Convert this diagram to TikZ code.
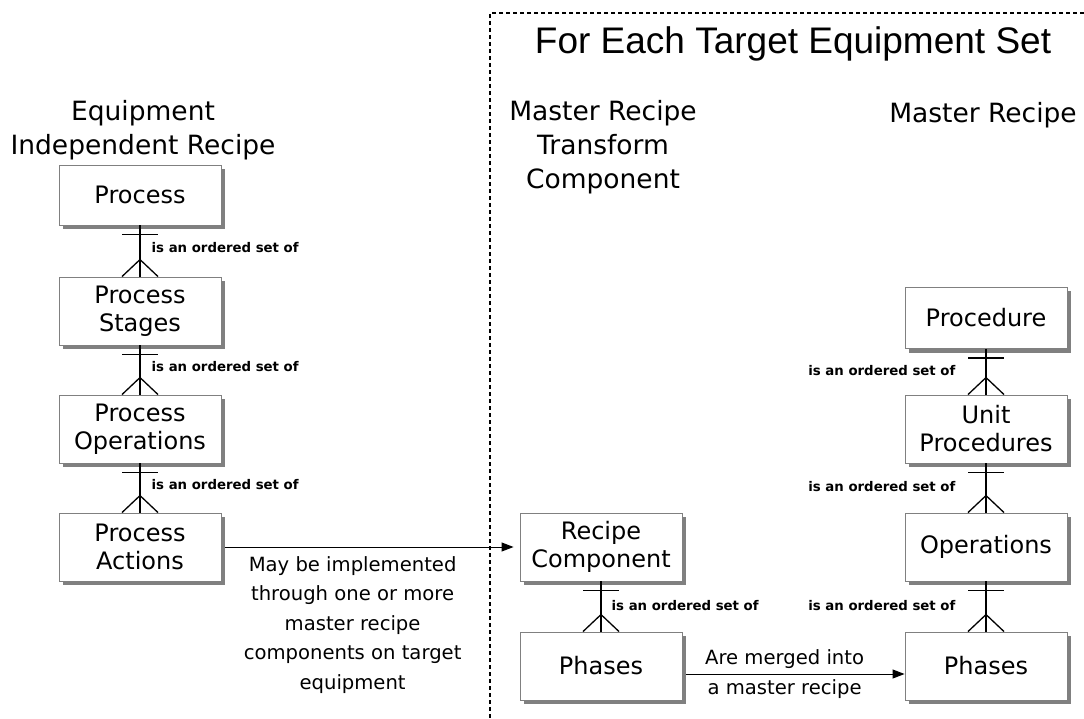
\documentclass[tikz,border=0pt]{standalone}
\usepackage{fontspec}
\setmainfont{DejaVu Sans}
\newfontfamily\titlefont{Liberation Sans}
\usetikzlibrary{arrows.meta,shadows}

% crow's foot link: upper node, lower node, label placement
\newcommand{\setof}[3]{%
  \draw[link] (#1.south) -- (#2.north)
    node[midway, relation, #3] {is an ordered set of};
  \draw[link] ([xshift=-18pt,yshift=-9pt]#1.south) -- ([xshift=18pt,yshift=-9pt]#1.south);
  \draw[link] ([xshift=-18pt]#2.north) -- ([yshift=17pt]#2.north) -- ([xshift=18pt]#2.north);
}

\begin{document}
\begin{tikzpicture}[x=1pt, y=1pt,
  entity/.style={draw=black!50, fill=white, line width=0.9pt, align=center,
    minimum width=162pt, minimum height=68pt, inner sep=2pt,
    font=\fontsize{24}{28}\selectfont,
    drop shadow={shadow xshift=4pt, shadow yshift=-4pt, fill=black!50, opacity=1}},
  heading/.style={align=center, inner sep=0pt, font=\fontsize{26.5}{34}\selectfont},
  relation/.style={inner sep=0pt, font=\fontsize{13.3}{16}\selectfont\bfseries},
  note/.style={align=center, inner sep=0pt, font=\fontsize{19.6}{29.5}\selectfont},
  link/.style={line width=1.3pt},
  flow/.style={line width=1pt, -{Triangle[length=12pt,width=9pt]}}
]
\useasboundingbox (0,0) rectangle (1084,-719);

% target equipment frame
\draw[line width=1.3pt, dash pattern=on 4pt off 3pt] (1084,-13) -| (490,-719);
\node[inner sep=0pt, font=\titlefont\fontsize{37}{44}\selectfont] (title) at (793,-44) {For Each Target Equipment Set};

% column headings
\node[heading] (hEIR) at (143,-130) {Equipment\\Independent Recipe};
\node[heading] (hMRT) at (603,-147) {Master Recipe\\Transform\\Component};
\node[heading] (hMR) at (983,-115) {Master Recipe};

% equipment independent recipe
\node[entity, minimum height=60pt] (proc) at (140,-195) {Process};
\node[entity] (stages) at (140,-311) {Process\\Stages};
\node[entity] (ops) at (140,-429) {Process\\Operations};
\node[entity] (acts) at (140,-547) {Process\\Actions};

% transform component
\node[entity] (rcomp) at (601,-547) {Recipe\\Component};
\node[entity] (phT) at (601,-666) {Phases};

% master recipe
\node[entity, minimum height=61pt] (procd) at (986,-318) {Procedure};
\node[entity] (uproc) at (986,-429) {Unit\\Procedures};
\node[entity] (mops) at (986,-547) {Operations};
\node[entity] (phM) at (986,-666) {Phases};

\setof{proc}{stages}{right=11pt, yshift=3pt}
\setof{stages}{ops}{right=11pt, yshift=3pt}
\setof{ops}{acts}{right=11pt, yshift=3pt}
\setof{rcomp}{phT}{right=10pt, yshift=1pt}
\setof{procd}{uproc}{left=30pt, yshift=1pt}
\setof{uproc}{mops}{left=30pt, yshift=1pt}
\setof{mops}{phM}{left=30pt, yshift=1pt}

\draw[flow, shorten <=4pt, shorten >=6pt] (acts.east) -- (rcomp.west)
  node[note, pos=0.44, below=9pt] {May be implemented\\through one or more\\master recipe\\components on target\\equipment};
\draw[flow, shorten <=4pt] ([yshift=-8pt]phT.east) -- ([yshift=-8pt]phM.west)
  node[note, pos=0.46] {Are merged into\\a master recipe};
\end{tikzpicture}
\end{document}
